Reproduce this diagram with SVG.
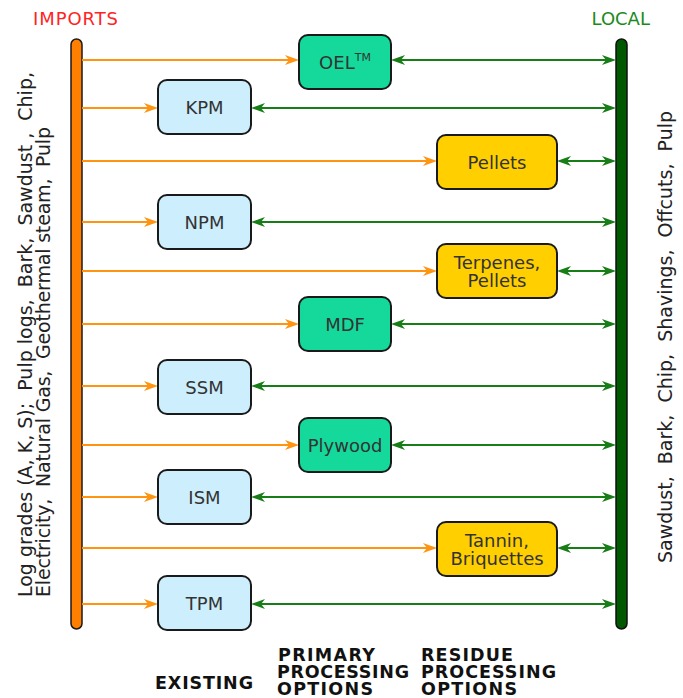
<svg xmlns="http://www.w3.org/2000/svg" width="683" height="698" viewBox="0 0 683 698">
  <style>
    text { font-family: "DejaVu Sans", Verdana, sans-serif; }
    .box { stroke: #1a1a1a; stroke-width: 2; }
    .existing { fill: #cdeefc; }
    .primary { fill: #14d99b; }
    .residue { fill: #ffcf00; }
    .lbl { font-size: 18px; fill: #333333; text-anchor: middle; }
    .in { stroke: #ff9411; stroke-width: 2; fill: none; marker-end: url(#head-in); }
    .out { stroke: #177d17; stroke-width: 2; fill: none; marker-start: url(#head-out); marker-end: url(#head-out); }
    .side { font-size: 19px; fill: #222222; }
    .col { font-size: 17.5px; font-weight: bold; fill: #111111; }
  </style>
  <defs>
    <marker id="head-in" viewBox="0 0 14 10" refX="4" refY="5" markerWidth="14" markerHeight="10" markerUnits="userSpaceOnUse" orient="auto-start-reverse">
      <path d="M0,0 L14,5 L0,10 L4,5 Z" fill="#ff9411"/>
    </marker>
    <marker id="head-out" viewBox="0 0 14 10" refX="4" refY="5" markerWidth="14" markerHeight="10" markerUnits="userSpaceOnUse" orient="auto-start-reverse">
      <path d="M0,0 L14,5 L0,10 L4,5 Z" fill="#177d17"/>
    </marker>
  </defs>

  <rect width="683" height="698" fill="#ffffff"/>

  <!-- headings -->
  <text x="33" y="24.5" font-size="18" fill="#ff2424" textLength="85">IMPORTS</text>
  <text x="591.5" y="24.5" font-size="18" fill="#1b8a1b">LOCAL</text>

  <!-- supply bars -->
  <g id="imports-bar">
    <rect x="71" y="39" width="11" height="590" rx="5.5" fill="#ff7f00" stroke="#1a1a1a" stroke-width="1.5"/>
  </g>
  <g id="local-bar">
    <rect x="616" y="39" width="11" height="590" rx="5.5" fill="#005800" stroke="#111111" stroke-width="1.5"/>
  </g>

  <!-- side captions (double spaces kept) -->
  <text class="side" xml:space="preserve" transform="translate(32,597) rotate(-90)" textLength="525">Log grades (A, K, S);  Pulp logs,  Bark,  Sawdust ,  Chip,</text>
  <text class="side" xml:space="preserve" transform="translate(50,597) rotate(-90)" textLength="470">Electricity,  Natural Gas,  Geothermal steam,  Pulp</text>
  <text class="side" xml:space="preserve" transform="translate(672,563) rotate(-90)">Sawdust,  Bark,  Chip,  Shavings,  Offcuts,  Pulp</text>

  <!-- connectors -->
  <g id="connectors">
    <line class="in" x1="82" y1="60" x2="289" y2="60"/>
    <line class="out" x1="401" y1="60" x2="606" y2="60"/>
    <line class="in" x1="82" y1="108" x2="148" y2="108"/>
    <line class="out" x1="261" y1="108" x2="606" y2="108"/>
    <line class="in" x1="82" y1="161" x2="427" y2="161"/>
    <line class="out" x1="567" y1="161" x2="606" y2="161"/>
    <line class="in" x1="82" y1="222" x2="148" y2="222"/>
    <line class="out" x1="261" y1="222" x2="606" y2="222"/>
    <line class="in" x1="82" y1="271" x2="427" y2="271"/>
    <line class="out" x1="567" y1="271" x2="606" y2="271"/>
    <line class="in" x1="82" y1="324" x2="289" y2="324"/>
    <line class="out" x1="401" y1="324" x2="606" y2="324"/>
    <line class="in" x1="82" y1="386" x2="148" y2="386"/>
    <line class="out" x1="261" y1="386" x2="606" y2="386"/>
    <line class="in" x1="82" y1="445" x2="289" y2="445"/>
    <line class="out" x1="401" y1="445" x2="606" y2="445"/>
    <line class="in" x1="82" y1="497" x2="148" y2="497"/>
    <line class="out" x1="261" y1="497" x2="606" y2="497"/>
    <line class="in" x1="82" y1="548" x2="427" y2="548"/>
    <line class="out" x1="567" y1="548" x2="606" y2="548"/>
    <line class="in" x1="82" y1="604" x2="148" y2="604"/>
    <line class="out" x1="261" y1="604" x2="606" y2="604"/>
  </g>

  <!-- nodes -->
  <g id="oel">
    <rect class="box primary" x="299" y="35" width="92" height="54" rx="9"/>
    <text class="lbl" x="345" y="68.5">OEL<tspan font-size="11" dy="-8">TM</tspan></text>
  </g>
  <g id="kpm">
    <rect class="box existing" x="158" y="80" width="93" height="54" rx="9"/>
    <text class="lbl" x="204.5" y="113.5">KPM</text>
  </g>
  <g id="pellets">
    <rect class="box residue" x="437" y="135" width="120" height="54" rx="9"/>
    <text class="lbl" x="497" y="168.5">Pellets</text>
  </g>
  <g id="npm">
    <rect class="box existing" x="158" y="195" width="93" height="54" rx="9"/>
    <text class="lbl" x="204.5" y="228.5">NPM</text>
  </g>
  <g id="terpenes">
    <rect class="box residue" x="437" y="244" width="120" height="54" rx="9"/>
    <text class="lbl" x="497" y="268.5">Terpenes,</text>
    <text class="lbl" x="497" y="287">Pellets</text>
  </g>
  <g id="mdf">
    <rect class="box primary" x="299" y="297" width="92" height="54" rx="9"/>
    <text class="lbl" x="345" y="330.5">MDF</text>
  </g>
  <g id="ssm">
    <rect class="box existing" x="158" y="360" width="93" height="54" rx="9"/>
    <text class="lbl" x="204.5" y="393.5">SSM</text>
  </g>
  <g id="plywood">
    <rect class="box primary" x="299" y="418" width="92" height="54" rx="9"/>
    <text class="lbl" x="345" y="451.5">Plywood</text>
  </g>
  <g id="ism">
    <rect class="box existing" x="158" y="470" width="93" height="54" rx="9"/>
    <text class="lbl" x="204.5" y="503.5">ISM</text>
  </g>
  <g id="tannin">
    <rect class="box residue" x="437" y="522" width="120" height="54" rx="9"/>
    <text class="lbl" x="497" y="546.5">Tannin,</text>
    <text class="lbl" x="497" y="565">Briquettes</text>
  </g>
  <g id="tpm">
    <rect class="box existing" x="158" y="576" width="93" height="54" rx="9"/>
    <text class="lbl" x="204.5" y="609.5">TPM</text>
  </g>

  <!-- column captions -->
  <text class="col" x="155" y="689" textLength="98">EXISTING</text>
  <text class="col" x="278" y="661" textLength="97">PRIMARY</text>
  <text class="col" x="277" y="678" textLength="132">PROCESSING</text>
  <text class="col" x="277" y="695" textLength="96">OPTIONS</text>
  <text class="col" x="421" y="661" textLength="92">RESIDUE</text>
  <text class="col" x="421" y="678" textLength="135">PROCESSING</text>
  <text class="col" x="421" y="695" textLength="96">OPTIONS</text>
</svg>
